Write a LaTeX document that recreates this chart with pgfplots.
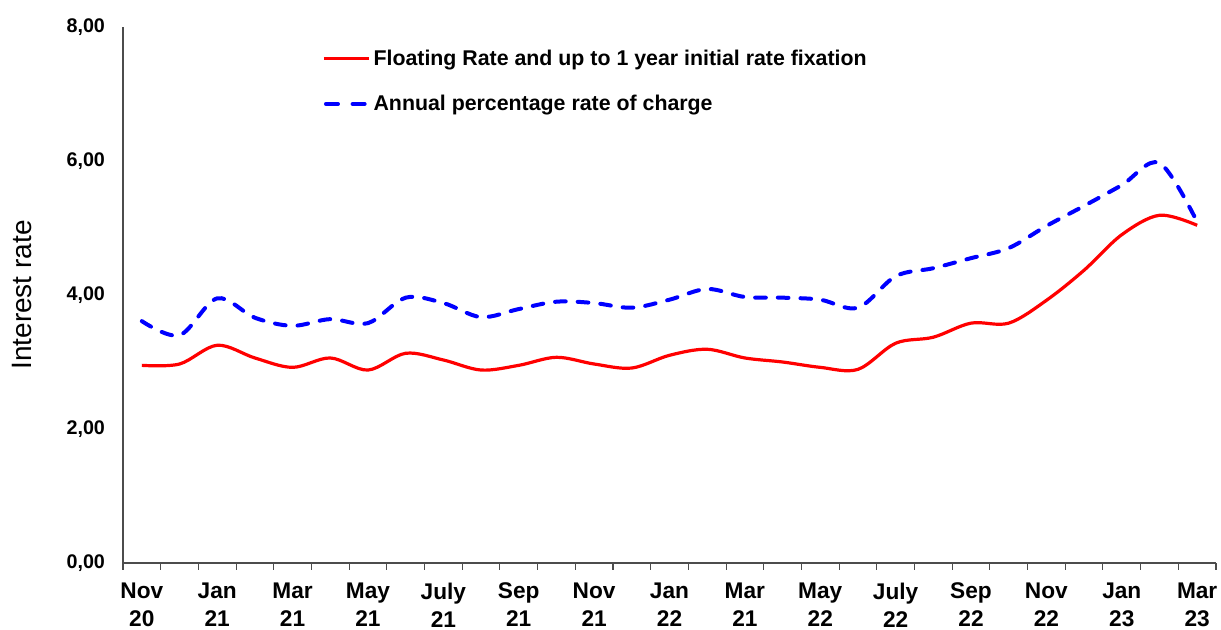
\documentclass[border=0pt]{standalone}
\usepackage{pgfplots}
\pgfplotsset{compat=1.18}
\usepackage{fontspec}
\setmainfont{Liberation Sans}
\definecolor{myred}{RGB}{255,0,0}
\definecolor{myblue}{RGB}{0,0,255}
\pgfplotsset{dashlegend/.style={legend image code/.code={\draw[##1, dash pattern=on 9pt off 11pt] (1.5pt,0pt) -- (32.5pt,0pt);}}}
\begin{document}
\begin{tikzpicture}
\useasboundingbox (0,0) rectangle (915.75pt,472.5pt);
\begin{axis}[
  at={(92.25pt,50.25pt)}, anchor=south west,
  scale only axis, width=819.75pt, height=402pt,
  xmin=-0.5, xmax=28.5, ymin=0, ymax=8,
  axis lines*=left,
  axis line style={black!70, line width=0.8pt},
  xtick={0,2,...,28},
  xticklabels={{Nov\\20},{Jan\\21},{Mar\\21},{May\\21},{July\\21},{Sep\\21},{Nov\\21},{Jan\\22},{Mar\\21},{May\\22},{July\\22},{Sep\\22},{Nov\\22},{Jan\\23},{Mar\\23}},
  x tick label style={align=center, font=\bfseries\fontsize{17}{21}\selectfont, yshift=-11.5pt},
  minor xtick={-0.5,0.5,...,28.5},
  major tick length=0pt, minor tick length=5pt,
  tick align=outside,
  tick style={black!70, line width=0.8pt},
  ytick={0,2,4,6,8},
  y tick label style={font=\bfseries\fontsize{14.8}{17}\selectfont, xshift=-10pt},
  yticklabel style={/pgf/number format/.cd, fixed, fixed zerofill, precision=2, use comma, assume math mode=true},
  ylabel={Interest rate},
  ylabel style={font=\fontsize{21}{24}\selectfont, at={(rel axis cs:-0.0924,0.5)}, anchor=center},
  legend style={draw=none, fill=none, at={(0.1785,0.968)}, anchor=north west,
    font=\bfseries\fontsize{16}{19}\selectfont, row sep=17pt, cells={anchor=west}},
  legend image code/.code={\draw[#1] (0pt,0pt) -- (34pt,0pt);},
  legend cell align=left,
]
\addplot[myred, line width=2.4pt, smooth, tension=0.55] coordinates {
(0,2.95) (1,2.97) (2,3.25) (3,3.06) (4,2.92) (5,3.06) (6,2.88) (7,3.13) (8,3.03) (9,2.88)
(10,2.95) (11,3.07) (12,2.97) (13,2.91) (14,3.10) (15,3.19) (16,3.06) (17,3.00) (18,2.92) (19,2.89)
(20,3.28) (21,3.37) (22,3.58) (23,3.58) (24,3.92) (25,4.37) (26,4.90) (27,5.19) (28,5.04)};
\addlegendentry{Floating Rate and up to 1 year initial rate fixation}
\addplot[myblue, line width=3pt, smooth, tension=0.55, dash pattern=on 8pt off 9pt, line cap=round, dashlegend] coordinates {
(0,3.61) (1,3.40) (2,3.95) (3,3.66) (4,3.54) (5,3.64) (6,3.58) (7,3.96) (8,3.88) (9,3.67)
(10,3.79) (11,3.90) (12,3.88) (13,3.81) (14,3.93) (15,4.09) (16,3.97) (17,3.96) (18,3.93) (19,3.81)
(20,4.28) (21,4.40) (22,4.55) (23,4.70) (24,5.03) (25,5.33) (26,5.64) (27,5.97) (28,5.09)};
\addlegendentry{Annual percentage rate of charge}
\end{axis}
\end{tikzpicture}
\end{document}
